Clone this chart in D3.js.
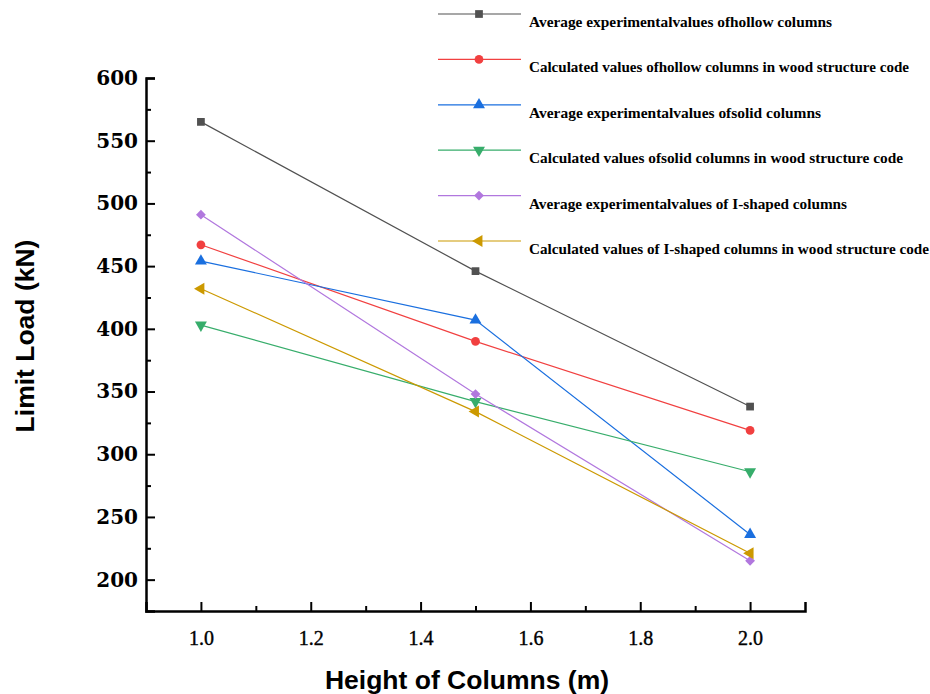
<!DOCTYPE html>
<html>
<head>
<meta charset="utf-8">
<script src="https://cdn.jsdelivr.net/npm/d3@7"></script>
<style>
  body { margin: 0; background: #fff; }
  svg { display: block; }
</style>
</head>
<body>
<script>
// data
const heights = [1.0, 1.5, 2.0];
const hollowExp = [565, 446, 338];
const hollowCode = [467, 390, 319];
const solidExp = [454, 407, 236];
const solidCode = [403, 342, 286];
const iShapedExp = [491, 348, 215];
const iShapedCode = [432, 334, 221];

const seriesNames = [
    'Average experimentalvalues ofhollow columns',
    'Calculated values ofhollow columns in wood structure code',
    'Average experimentalvalues ofsolid columns',
    'Calculated values ofsolid columns in wood structure  code',
    'Average experimentalvalues of I-shaped columns',
    'Calculated values of I-shaped columns in wood structure  code'
];
const seriesValues = [hollowExp, hollowCode, solidExp, solidCode, iShapedExp, iShapedCode];
const colors = ['#515151', '#F14040', '#1A6FDF', '#37AD6B', '#B177DE', '#CC9900'];
const xTicks = [1.0, 1.2, 1.4, 1.6, 1.8, 2.0];
const yTicks = [200, 250, 300, 350, 400, 450, 500, 550, 600];

const width = 930, height = 694;
const svg = d3.select('body').append('svg')
    .attr('width', width)
    .attr('height', height);

// scales
const x = d3.scaleLinear().domain([0.9, 2.1]).range([146, 805]);
const y = d3.scaleLinear().domain([175, 600]).range([611, 78]);

// marker shapes (diamond = square turned 45deg)
const symbolTypes = [
    d3.symbolSquare, d3.symbolCircle, d3.symbolTriangle,
    d3.symbolTriangle, d3.symbolSquare, d3.symbolTriangle
];
const symbolRotate = [0, 0, 0, 180, 45, -90];
const symbolSize = [60, 60, 62, 62, 48, 62];
const markerPath = i => d3.symbol().type(symbolTypes[i]).size(symbolSize[i])();

// x axis
svg.append('g')
    .attr('transform', `translate(0,${y(175)})`)
    .call(d3.axisBottom(x).tickValues(d3.range(1.1, 2.01, 0.2)).tickSize(-5).tickFormat(''))
    .call(g => g.select('.domain').remove())
    .call(g => g.selectAll('line').attr('stroke', '#000').attr('stroke-width', 2));
svg.append('g')
    .attr('transform', `translate(0,${y(175)})`)
    .call(d3.axisBottom(x).tickValues(xTicks).tickSize(-9).tickPadding(20).tickFormat(d3.format('.1f')))
    .call(g => g.select('.domain').attr('stroke', '#000').attr('stroke-width', 2.5))
    .call(g => g.selectAll('line').attr('stroke', '#000').attr('stroke-width', 2))
    .call(g => g.selectAll('text')
        .attr('font-family', '"Liberation Serif", serif')
        .attr('font-size', 20)
        .attr('fill', '#000')
        .attr('stroke', '#000')
        .attr('stroke-width', 0.4));

// y axis
svg.append('g')
    .attr('transform', `translate(${x(0.9)},0)`)
    .call(d3.axisLeft(y).tickValues(d3.range(225, 600, 50)).tickSize(-5).tickFormat(''))
    .call(g => g.select('.domain').remove())
    .call(g => g.selectAll('line').attr('stroke', '#000').attr('stroke-width', 2));
svg.append('g')
    .attr('transform', `translate(${x(0.9)},0)`)
    .call(d3.axisLeft(y).tickValues(yTicks).tickSize(-9).tickPadding(8))
    .call(g => g.select('.domain').attr('stroke', '#000').attr('stroke-width', 2.5))
    .call(g => g.selectAll('line').attr('stroke', '#000').attr('stroke-width', 2))
    .call(g => g.selectAll('text')
        .attr('font-family', '"DejaVu Serif", serif')
        .attr('font-weight', 'bold')
        .attr('font-size', 20)
        .attr('fill', '#000'));

// axis titles
svg.append('text')
    .attr('x', 467).attr('y', 689)
    .attr('text-anchor', 'middle')
    .attr('font-family', '"Liberation Sans", Arial, sans-serif')
    .attr('font-weight', 'bold')
    .attr('font-size', 26.5)
    .text('Height of Columns (m)');
svg.append('text')
    .attr('transform', 'translate(34,336) rotate(-90)')
    .attr('text-anchor', 'middle')
    .attr('font-family', '"Liberation Sans", Arial, sans-serif')
    .attr('font-weight', 'bold')
    .attr('font-size', 26.5)
    .text('Limit Load (kN)');

// lines + markers
const line = d3.line().x((d, i) => x(heights[i])).y(d => y(d));
seriesValues.forEach((vals, s) => {
    svg.append('path')
        .datum(vals)
        .attr('fill', 'none')
        .attr('stroke', colors[s])
        .attr('stroke-width', 1.2)
        .attr('d', line);
    svg.selectAll(null)
        .data(vals)
        .enter()
        .append('path')
        .attr('d', markerPath(s))
        .attr('fill', colors[s])
        .attr('transform', (d, i) => `translate(${x(heights[i])},${y(d)}) rotate(${symbolRotate[s]})`);
});

// legend
const legendW = [303, 380, 292, 374, 318, 400];
const legend = svg.append('g');
seriesNames.forEach((name, s) => {
    let ly = 14 + s * 45.4;
    legend.append('line')
        .attr('x1', 438).attr('x2', 521)
        .attr('y1', ly).attr('y2', ly)
        .attr('stroke', colors[s])
        .attr('stroke-width', 1.2);
    legend.append('path')
        .attr('d', markerPath(s))
        .attr('fill', colors[s])
        .attr('transform', `translate(479,${ly}) rotate(${symbolRotate[s]})`);
    legend.append('text')
        .attr('x', 529).attr('y', ly + 13)
        .attr('font-family', '"Liberation Serif", serif')
        .attr('font-weight', 'bold')
        .attr('font-size', 14)
        .attr('textLength', legendW[s])
        .attr('lengthAdjust', 'spacingAndGlyphs')
        .text(name);
});
</script>
</body>
</html>
